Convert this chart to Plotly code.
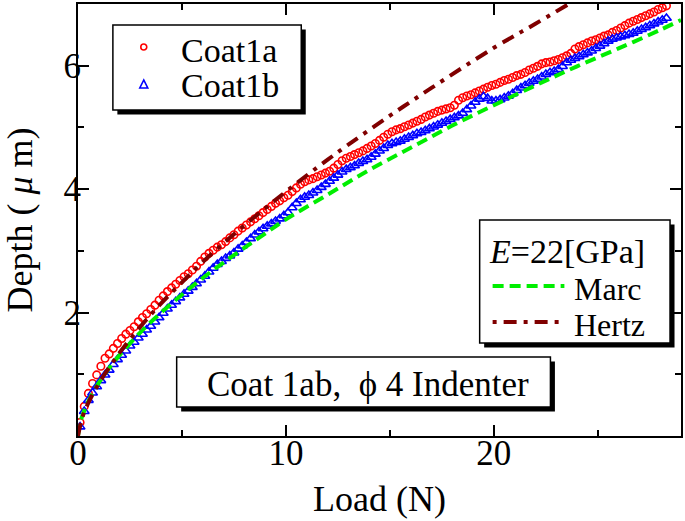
import plotly.graph_objects as go

# ---------------- data ----------------
# load values shared by both measured series (N)
load = [0.1, 0.3, 0.5, 0.7, 0.9, 1.1, 1.3, 1.5, 1.7, 1.9,
        2.1, 2.3, 2.5, 2.7, 2.9, 3.1, 3.3, 3.5, 3.7, 3.9,
        4.1, 4.3, 4.5, 4.7, 4.9, 5.1, 5.3, 5.5, 5.7, 5.9,
        6.1, 6.3, 6.5, 6.7, 6.9, 7.1, 7.3, 7.5, 7.7, 7.9,
        8.1, 8.3, 8.5, 8.7, 8.9, 9.1, 9.3, 9.5, 9.7, 9.9,
        10.1, 10.3, 10.5, 10.7, 10.9, 11.1, 11.3, 11.5, 11.7, 11.9,
        12.1, 12.3, 12.5, 12.7, 12.9, 13.1, 13.3, 13.5, 13.7, 13.9,
        14.1, 14.3, 14.5, 14.7, 14.9, 15.1, 15.3, 15.5, 15.7, 15.9,
        16.1, 16.3, 16.5, 16.7, 16.9, 17.1, 17.3, 17.5, 17.7, 17.9,
        18.1, 18.3, 18.5, 18.7, 18.9, 19.1, 19.3, 19.5, 19.7, 19.9,
        20.1, 20.3, 20.5, 20.7, 20.9, 21.1, 21.3, 21.5, 21.7, 21.9,
        22.1, 22.3, 22.5, 22.7, 22.9, 23.1, 23.3, 23.5, 23.7, 23.9,
        24.1, 24.3, 24.5, 24.7, 24.9, 25.1, 25.3, 25.5, 25.7, 25.9,
        26.1, 26.3, 26.5, 26.7, 26.9, 27.1, 27.3, 27.5, 27.7, 27.9,
        28.1, 28.3]

depth_1a = [0.22, 0.48, 0.69, 0.85, 0.99, 1.13, 1.26, 1.33, 1.42, 1.50,
            1.58, 1.65, 1.71, 1.77, 1.85, 1.92, 1.98, 2.05, 2.12, 2.20,
            2.27, 2.34, 2.40, 2.46, 2.52, 2.58, 2.63, 2.69, 2.75, 2.83,
            2.90, 2.96, 3.01, 3.06, 3.10, 3.15, 3.21, 3.26, 3.32, 3.37,
            3.42, 3.47, 3.52, 3.57, 3.62, 3.67, 3.72, 3.77, 3.81, 3.86,
            3.90, 3.96, 4.02, 4.08, 4.12, 4.15, 4.17, 4.20, 4.23, 4.26,
            4.29, 4.34, 4.40, 4.46, 4.50, 4.53, 4.56, 4.59, 4.62, 4.66,
            4.70, 4.74, 4.79, 4.84, 4.89, 4.93, 4.96, 4.98, 5.01, 5.04,
            5.07, 5.10, 5.13, 5.17, 5.20, 5.23, 5.26, 5.28, 5.30, 5.32,
            5.36, 5.44, 5.48, 5.51, 5.53, 5.56, 5.59, 5.62, 5.65, 5.68,
            5.70, 5.73, 5.76, 5.78, 5.81, 5.84, 5.86, 5.89, 5.93, 5.96,
            5.99, 6.03, 6.05, 6.06, 6.08, 6.10, 6.13, 6.16, 6.20, 6.27,
            6.31, 6.34, 6.37, 6.40, 6.42, 6.45, 6.48, 6.50, 6.54, 6.57,
            6.61, 6.65, 6.69, 6.72, 6.75, 6.78, 6.81, 6.84, 6.87, 6.91,
            6.94, 6.97]

depth_1b = [0.15, 0.40, 0.58, 0.70, 0.80, 0.90, 0.99, 1.07, 1.16, 1.24,
            1.31, 1.38, 1.46, 1.52, 1.59, 1.65, 1.72, 1.78, 1.85, 1.92,
            1.99, 2.06, 2.12, 2.18, 2.24, 2.30, 2.35, 2.41, 2.47, 2.53,
            2.59, 2.66, 2.72, 2.78, 2.83, 2.88, 2.92, 2.97, 3.03, 3.08,
            3.14, 3.20, 3.26, 3.31, 3.36, 3.40, 3.44, 3.48, 3.52, 3.57,
            3.62, 3.70, 3.77, 3.83, 3.87, 3.90, 3.94, 3.98, 4.03, 4.08,
            4.13, 4.18, 4.23, 4.28, 4.32, 4.35, 4.38, 4.42, 4.45, 4.48,
            4.52, 4.57, 4.62, 4.66, 4.71, 4.74, 4.76, 4.78, 4.81, 4.84,
            4.87, 4.90, 4.92, 4.95, 4.98, 5.01, 5.04, 5.07, 5.10, 5.13,
            5.16, 5.19, 5.23, 5.29, 5.35, 5.41, 5.46, 5.50, 5.47, 5.43,
            5.43, 5.45, 5.48, 5.51, 5.55, 5.60, 5.64, 5.68, 5.72, 5.75,
            5.78, 5.82, 5.86, 5.89, 5.91, 5.94, 5.99, 6.05, 6.09, 6.12,
            6.15, 6.18, 6.21, 6.24, 6.28, 6.32, 6.36, 6.40, 6.43, 6.45,
            6.47, 6.49, 6.51, 6.53, 6.56, 6.59, 6.62, 6.65, 6.68, 6.71,
            6.74, 6.77]

load_marc = [0, 0.1, 0.3, 0.6, 1, 1.5, 2, 3, 4, 5, 6, 7, 8, 9, 10, 12, 14, 16, 18, 20,
             22, 24, 26, 28, 29]
depth_marc = [0, 0.21, 0.41, 0.63, 0.86, 1.10, 1.31, 1.68, 2.00, 2.29, 2.56, 2.81, 3.05,
              3.28, 3.51, 3.91, 4.31, 4.67, 5.03, 5.36, 5.68, 5.99, 6.28, 6.58, 6.74]

load_hertz = [0, 0.2, 0.5, 1, 2, 3, 4, 5, 6, 7.5, 9, 10, 11.5, 13, 15, 17, 20, 22, 24, 24.5]
depth_hertz = [0, 0.29, 0.54, 0.85, 1.35, 1.77, 2.15, 2.49, 2.82, 3.27, 3.69, 3.96, 4.35,
               4.72, 5.19, 5.64, 6.29, 6.68, 7.08, 7.18]

x_ticks = [0, 10, 20]
x_minor = [5, 15, 25]
y_ticks = [2, 4, 6]
y_minor = [1, 3, 5]

# ---------------- layout geometry ----------------
W, H = 685, 521
ML, MR, MT, MB = 78, 2, 4, 85
PW, PH = W - ML - MR, H - MT - MB


def px(X):
    return (X - ML) / PW


def py(Y):
    return (H - MB - Y) / PH


FONT = "Liberation Serif, Times New Roman, serif"
RED, BLUE, GREEN, DRED = "#ff0000", "#0000ff", "#00ee00", "#800000"

fig = go.Figure()
fig.add_trace(go.Scatter(x=load, y=depth_1a, mode="markers", name="Coat1a",
                         marker=dict(symbol="circle-open", size=7.5, color=RED,
                                     line=dict(width=1.6, color=RED))))
fig.add_trace(go.Scatter(x=load, y=depth_1b, mode="markers", name="Coat1b",
                         marker=dict(symbol="triangle-up-open", size=8.5, color=BLUE,
                                     line=dict(width=1.6, color=BLUE))))
fig.add_trace(go.Scatter(x=load_marc, y=depth_marc, mode="lines", name="Marc",
                         line=dict(color=GREEN, width=4, dash="11px,6px", shape="spline")))
fig.add_trace(go.Scatter(x=load_hertz, y=depth_hertz, mode="lines", name="Hertz",
                         line=dict(color=DRED, width=4, dash="13px,7px,4px,7px",
                                   shape="spline")))

shapes = []
annotations = []


def box(x0, y0, x1, y1, sh=4.5):
    shapes.append(dict(type="rect", xref="paper", yref="paper",
                       x0=px(x0 + sh), x1=px(x1 + sh), y0=py(y1 + sh), y1=py(y0 + sh),
                       fillcolor="black", line=dict(width=0), layer="above"))
    shapes.append(dict(type="rect", xref="paper", yref="paper",
                       x0=px(x0), x1=px(x1), y0=py(y1), y1=py(y0),
                       fillcolor="white", line=dict(width=1.5, color="black"),
                       layer="above"))


def text(X, Y, s, size=34):
    annotations.append(dict(xref="paper", yref="paper", x=px(X), y=py(Y), text=s,
                            showarrow=False, xanchor="left", yanchor="middle",
                            borderpad=0,
                            font=dict(family=FONT, size=size, color="black")))


# legend box 1
box(113, 25, 302, 110)
shapes.append(dict(type="circle", xref="paper", yref="paper",
                   x0=px(141), x1=px(147), y0=py(50), y1=py(44),
                   line=dict(color=RED, width=1.6), layer="above"))
shapes.append(dict(type="path", xref="paper", yref="paper",
                   path=f"M {px(140)},{py(88)} L {px(148)},{py(88)} L {px(144)},{py(80)} Z",
                   line=dict(color=BLUE, width=1.6), layer="above"))
text(180, 50, "Coat1a")
text(180, 86, "Coat1b")

# legend box 2
box(481, 220, 672, 343)
text(489, 251, "<i>E</i>=22[GPa]", size=34)
shapes.append(dict(type="line", xref="paper", yref="paper",
                   x0=px(494), x1=px(566), y0=py(286), y1=py(286),
                   line=dict(color=GREEN, width=4, dash="11px,6px"), layer="above"))
text(575, 289, "Marc", size=32)
shapes.append(dict(type="line", xref="paper", yref="paper",
                   x0=px(494), x1=px(566), y0=py(322), y1=py(322),
                   line=dict(color=DRED, width=4, dash="4px,7px,13px,7px"), layer="above"))
text(575, 325, "Hertz", size=32)

# info box
box(177, 357, 552, 407)
text(206, 384, "Coat 1ab,  ϕ 4 Indenter", size=35)

axis_common = dict(showline=True, linecolor="black", linewidth=2, mirror="allticks",
                   ticks="inside", ticklen=11, tickwidth=2, tickcolor="black",
                   showgrid=False, zeroline=False,
                   tickfont=dict(family=FONT, size=35, color="black"))

fig.update_layout(
    width=W, height=H,
    margin=dict(l=ML, r=MR, t=MT, b=MB),
    paper_bgcolor="white", plot_bgcolor="white",
    showlegend=False,
    shapes=shapes, annotations=annotations,
    xaxis=dict(range=[0, 29], tickvals=x_ticks, ticklabelstandoff=-15,
               minor=dict(tickvals=x_minor, ticks="inside", ticklen=6,
                          tickwidth=2, tickcolor="black"),
               title=dict(text="Load (N)", font=dict(family=FONT, size=36, color="black"),
                          standoff=14),
               **axis_common),
    yaxis=dict(range=[0, 7], tickvals=y_ticks, ticklabelstandoff=-12,
               minor=dict(tickvals=y_minor, ticks="inside", ticklen=6,
                          tickwidth=2, tickcolor="black"),
               title=dict(text="Depth ( <i>μ</i> m)",
                          font=dict(family=FONT, size=36, color="black"), standoff=20),
               **axis_common),
)

fig.write_html("out.html", config={"displayModeBar": False},
               post_script="document.body.style.margin='0';")
